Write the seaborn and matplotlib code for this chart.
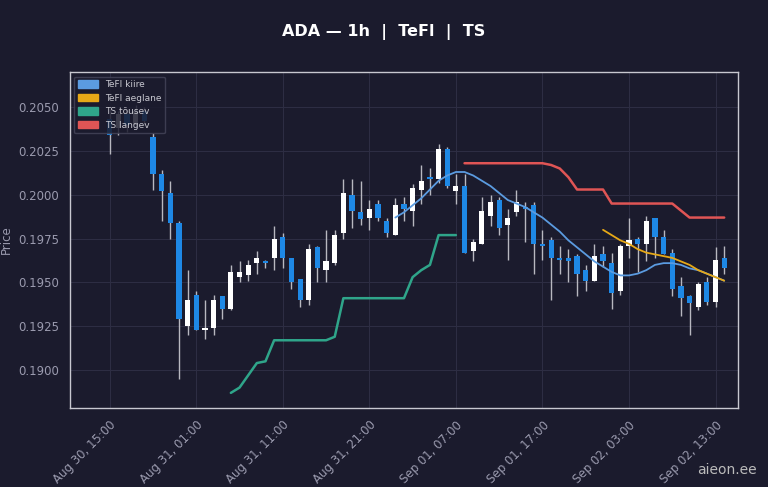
import numpy as np
import pandas as pd
import seaborn as sns
import matplotlib.pyplot as plt
from matplotlib.patches import Patch

# OHLC, hourly candles from Aug 30 15:00
opens = [.2043, .2038, .2046, .2040, .2048, .2033, .2012, .2001, .1984, .1925,
         .1943, .1923, .1924, .1942, .1935, .1953, .1954, .1961, .1962, .1964,
         .1976, .1964, .1952, .1940, .1970, .1957, .1961, .1978, .2000, .1990,
         .1987, .1995, .1985, .1977, .1995, .1991, .2003, .2010, .2009, .2026,
         .2002, .2005, .1968, .1972, .1988, .1997, .1983, .1990, .1993, .1994,
         .1972, .1974, .1964, .1964, .1965, .1957, .1951, .1966, .1961, .1945,
         .1971, .1975, .1972, .1987, .1976, .1967, .1948, .1942, .1936, .1950,
         .1939, .1964]
closes = [.2034, .2046, .2040, .2048, .2042, .2012, .2002, .1984, .1929, .1940,
          .1923, .1924, .1940, .1935, .1956, .1956, .1960, .1964, .1961, .1975,
          .1964, .1950, .1940, .1969, .1958, .1962, .1977, .2001, .1991, .1986,
          .1992, .1987, .1978, .1994, .1992, .2004, .2008, .2009, .2026, .2005,
          .2005, .1967, .1973, .1991, .1996, .1981, .1987, .1996, .1992, .1972,
          .1971, .1964, .1963, .1962, .1955, .1951, .1965, .1962, .1944, .1971,
          .1974, .1972, .1985, .1976, .1966, .1946, .1941, .1938, .1949, .1939,
          .1963, .1958]
highs = [.2049, .2048, .2049, .2051, .2050, .2035, .2014, .2008, .1985, .1957,
         .1945, .1940, .1943, .1942, .1960, .1962, .1963, .1968, .1963, .1982,
         .1978, .1964, .1951, .1972, .1971, .1980, .1980, .2009, .2009, .2008,
         .1997, .1997, .1987, .1998, .1999, .2006, .2017, .2015, .2029, .2027,
         .2012, .2012, .1975, .1999, .2000, .1999, .1992, .2003, .1996, .1996,
         .1980, .1976, .1971, .1969, .1966, .1960, .1972, .1971, .1967, .1972,
         .1987, .1976, .1988, .1987, .1980, .1969, .1953, .1943, .1950, .1953,
         .1970, .1971]
lows = [.2023, .2034, .2036, .2038, .2040, .2003, .1985, .1975, .1895, .1920,
        .1923, .1918, .1920, .1929, .1934, .1950, .1951, .1955, .1958, .1957,
        .1958, .1946, .1936, .1937, .1950, .1950, .1960, .1975, .1981, .1983,
        .1980, .1985, .1976, .1977, .1985, .1982, .1995, .2000, .2007, .2004,
        .1995, .1967, .1962, .1972, .1982, .1977, .1963, .1988, .1973, .1955,
        .1963, .1940, .1955, .1950, .1942, .1945, .1951, .1959, .1935, .1943,
        .1964, .1956, .1962, .1964, .1966, .1942, .1931, .1920, .1934, .1937,
        .1936, .1955]

tefl_fast_start = 33
tefl_fast = [.1987, .1990, .1994, .1998, .2003, .2008, .2011, .2013, .2013, .2011,
             .2008, .2005, .2001, .1997, .1995, .1993, .1990, .1987, .1983, .1979,
             .1974, .1970, .1966, .1962, .1959, .1956, .1954, .1954, .1955, .1957,
             .1960, .1961, .1961, .1960, .1958, .1957, .1955, .1953, .1951]
tefl_slow_start = 57
tefl_slow = [.1980, .1977, .1974, .1972, .1969, .1967, .1966, .1965, .1964, .1962,
             .1960, .1957, .1955, .1953, .1951]
ts_up_start = 14
ts_up = [.1887, .1890, .1897, .1904, .1905, .1917, .1917, .1917, .1917, .1917,
         .1917, .1917, .1919, .1941, .1941, .1941, .1941, .1941, .1941, .1941,
         .1941, .1953, .1957, .1960, .1977, .1977, .1977]
ts_down_start = 41
ts_down = [.2018, .2018, .2018, .2018, .2018, .2018, .2018, .2018, .2018, .2018,
           .2017, .2015, .2010, .2003, .2003, .2003, .2003, .1995, .1995, .1995,
           .1995, .1995, .1995, .1995, .1995, .1991, .1987, .1987, .1987, .1987, .1987]

times = pd.date_range('2024-08-30 15:00', periods=len(opens), freq='h')

BG = '#1b1b2d'
sns.set_theme(style='dark', rc={'axes.facecolor': BG, 'figure.facecolor': BG})
plt.rcParams['font.family'] = ['DejaVu Sans']

fig = plt.figure(figsize=(7.68, 4.87), dpi=100)
ax = fig.add_axes([0.091, 0.162, 0.87, 0.69])

x = np.arange(len(opens))
o, c, h, l = map(np.array, (opens, closes, highs, lows))
up = c >= o
cols = np.where(up, '#ffffff', '#1e88e5')
ax.vlines(x, l, h, color='#b8b8c0', linewidth=1, zorder=2)
ax.bar(x, np.maximum(np.abs(c - o), 0.00006), bottom=np.minimum(o, c),
       width=0.6, color=cols, linewidth=0, zorder=3)

def draw(start, vals, color, lw):
    df = pd.DataFrame({'i': np.arange(start, start + len(vals)), 'v': vals})
    sns.lineplot(data=df, x='i', y='v', ax=ax, color=color, linewidth=lw, zorder=4)

draw(tefl_fast_start, tefl_fast, '#5b9be0', 1.3)
draw(tefl_slow_start, tefl_slow, '#e6a817', 1.3)
draw(ts_up_start, ts_up, '#2fa58a', 1.8)
draw(ts_down_start, ts_down, '#e05555', 1.8)

ax.set_xlim(-4.6, 72.6)
ax.set_ylim(0.18783, 0.2070)
ticks = np.arange(0, len(opens), 10)
ax.set_xticks(ticks)
ax.set_xticklabels([times[t].strftime('%b %d, %H:%M') for t in ticks],
                   rotation=45, ha='right', rotation_mode='anchor', fontsize=8.5, color='#9a9aae')
ax.set_yticks([0.19, 0.1925, 0.195, 0.1975, 0.2, 0.2025, 0.205])
ax.set_yticklabels([f'{v:.4f}' for v in ax.get_yticks()], fontsize=8.5, color='#9a9aae')
ax.tick_params(axis='both', length=4, color='#9a9aae')
ax.set_xlabel('')
ax.set_ylabel('Price', color='#9a9aae', fontsize=8.5)
ax.grid(True, color='#2e2e44', linewidth=0.7)
for s in ax.spines.values():
    s.set_color('#c8c8d0')
    s.set_linewidth(1)

handles = [Patch(color='#5b9be0', label='TeFl kiire'),
           Patch(color='#e6a817', label='TeFl aeglane'),
           Patch(color='#2fa58a', label='TS tõusev'),
           Patch(color='#e05555', label='TS langev')]
leg = ax.legend(handles=handles, loc='upper left', fontsize=6.5, facecolor=BG,
                edgecolor='#444458', labelcolor='#c8c8d0', framealpha=0.85,
                handlelength=2.2, handleheight=0.9)

fig.suptitle('ADA — 1h  |  TeFl  |  TS', color='white', fontsize=11.5,
             fontweight='bold', y=0.95)
fig.text(0.985, 0.02, 'aieon.ee', color='#bbbbbb', fontsize=10, ha='right', va='bottom')

fig.savefig('out.png', dpi=100, facecolor=BG)
